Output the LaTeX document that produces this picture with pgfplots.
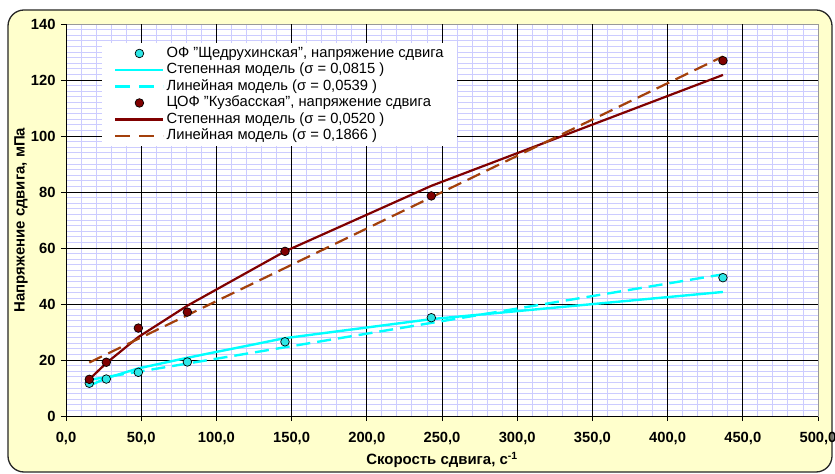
\documentclass[border=0pt]{standalone}
\usepackage{fontspec}
\setmainfont{Liberation Sans}
\usepackage{pgfplots}
\pgfplotsset{compat=1.18}
\definecolor{frameY}{HTML}{FFFFCC}
\definecolor{gridB}{HTML}{CCCCFF}
\definecolor{cyanL}{HTML}{00FFFF}
\definecolor{cyanM}{HTML}{2EE6E6}
\definecolor{redD}{HTML}{800000}
\definecolor{redB}{HTML}{A3400C}
\begin{document}
\begin{tikzpicture}
\useasboundingbox (-66bp,-58bp) rectangle (769bp,416bp);
\draw[line width=1.3bp, fill=frameY, draw=black!85, rounded corners=16bp] (-58bp,-56bp) rectangle (766bp,406bp);
\begin{axis}[
  at={(0,0)}, anchor=south west,
  scale only axis, width=752bp, height=392bp,
  xmin=0, xmax=500, ymin=0, ymax=140,
  xtick={0,50,...,500},
  xticklabels={{0,0},{50,0},{100,0},{150,0},{200,0},{250,0},{300,0},{350,0},{400,0},{450,0},{500,0}},
  ytick={0,20,...,140},
  minor x tick num=4, minor y tick num=9,
  grid=minor,
  minor grid style={gridB, line width=0.9bp},
  extra x ticks={50,100,...,450},
  extra y ticks={20,40,...,120},
  extra x tick labels={},
  extra y tick labels={},
  extra tick style={grid=major, major grid style={black, line width=0.7bp}, major tick length=0pt},
  tick align=outside, tick pos=left,
  major tick length=5bp, minor tick length=0pt,
  tick style={black, line width=0.7bp},
  axis line style={gray!80, line width=0.9bp},
  axis background/.style={fill=white},
  /pgf/number format/assume math mode=true,
  ticklabel style={font=\fontsize{14.8}{17}\selectfont\bfseries},
  xticklabel style={yshift=-8bp},
  yticklabel style={xshift=-2bp},
  xlabel={Скорость сдвига, с\textsuperscript{-1}},
  xlabel style={at={(axis description cs:0.5,-0.1122)}, anchor=center, font=\fontsize{15}{18}\selectfont\bfseries},
  ylabel={Напряжение сдвига, мПа},
  ylabel style={at={(axis description cs:-0.0598,0.5)}, anchor=center, font=\fontsize{15}{18}\selectfont\bfseries},
  legend image code/.code={\draw[mark repeat=2,mark phase=2,#1] plot coordinates {(0bp,0bp)(24bp,0bp)(48bp,0bp)};},
  legend style={at={(0.0479,0.9515)}, anchor=north west, draw=none, fill=white,
    inner xsep=12bp, inner ysep=2bp, column sep=1bp, row sep=0bp,
    font=\fontsize{14.8}{17}\selectfont,
    nodes={inner sep=1bp, text height=11bp, text depth=3.5bp, anchor=west}},
  legend cell align=left,
]
% lines
\addplot[forget plot, cyanL, line width=2.4bp] coordinates {(15.5,10.8)(26.8,13.5)(48.1,17.0)(80.7,20.8)(145.6,27.8)(242.9,34.6)(436.8,44.3)};
\addplot[forget plot, cyanL, line width=2.4bp, dash pattern=on 14bp off 7bp] coordinates {(15.5,12.9)(436.8,50.6)};
\addplot[forget plot, redD, line width=2.2bp] coordinates {(15.5,13.1)(26.8,18.9)(48.1,28.2)(80.7,39.4)(145.6,58.8)(242.9,82.2)(436.8,121.8)};
\addplot[forget plot, redB, line width=2.2bp, dash pattern=on 14bp off 7bp] coordinates {(15.5,19.1)(436.8,128.4)};
% points
\addplot[forget plot, only marks, mark=*, mark size=4.3bp, mark options={fill=cyanM, draw=black, line width=0.7bp}] coordinates {(15.5,11.7)(26.8,13.2)(48.1,15.6)(80.7,19.3)(145.6,26.5)(242.9,35.1)(436.8,49.4)};
\addplot[forget plot, only marks, mark=*, mark size=4.3bp, mark options={fill=redD, draw=black, line width=0.7bp}] coordinates {(15.5,13.1)(26.8,19.2)(48.1,31.4)(80.7,37.1)(145.6,58.8)(242.9,78.6)(436.8,126.9)};
% legend
\addlegendimage{only marks, mark=*, mark size=4.3bp, mark options={fill=cyanM, draw=black, line width=0.7bp}}
\addlegendentry{ОФ "Щедрухинская", напряжение сдвига}
\addlegendimage{cyanL, line width=2.4bp}
\addlegendentry{Степенная модель (σ = 0,0815 )}
\addlegendimage{cyanL, line width=2.4bp, dash pattern=on 15bp off 9bp}
\addlegendentry{Линейная модель (σ = 0,0539 )}
\addlegendimage{only marks, mark=*, mark size=4.3bp, mark options={fill=redD, draw=black, line width=0.7bp}}
\addlegendentry{ЦОФ "Кузбасская", напряжение сдвига}
\addlegendimage{redD, line width=2.2bp}
\addlegendentry{Степенная модель (σ = 0,0520 )}
\addlegendimage{redB, line width=2.2bp, dash pattern=on 15bp off 9bp}
\addlegendentry{Линейная модель (σ = 0,1866 )}
\draw[black, line width=0.9bp] (rel axis cs:0,1) -- (rel axis cs:0,0) -- (rel axis cs:1,0);
\end{axis}
\end{tikzpicture}
\end{document}
